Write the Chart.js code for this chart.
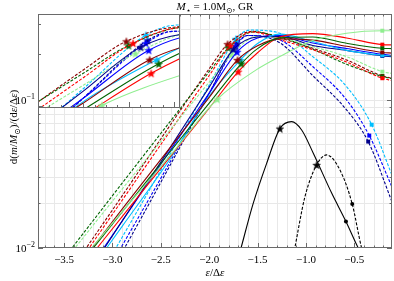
<!DOCTYPE html>
<html><head><meta charset="utf-8">
<script src="https://cdn.jsdelivr.net/npm/chart.js@4/dist/chart.umd.min.js"></script>
<style>
html,body{margin:0;padding:0;background:#fff;}
#wrap{position:relative;width:394px;height:281px;overflow:hidden;}
#main{position:absolute;left:0;top:0;}
#inset{position:absolute;left:38px;top:14px;background:#fff;}
</style></head><body>
<div id="wrap">
<canvas id="main" width="394" height="281"></canvas>
<canvas id="inset" width="142" height="94"></canvas>
</div>
<script>
// ---------- axis ranges & tick labels ----------
const mainXRange = [-3.77, -0.11];
const mainYRange = [0.01, 0.38];
const insetXRange = [-2.2, -1.573];
const insetYRange = [0.0973, 0.343];
const xTickValues = [-3.5, -3.0, -2.5, -2.0, -1.5, -1.0, -0.5];
const xTickLabels = ['\u22123.5', '\u22123.0', '\u22122.5', '\u22122.0', '\u22121.5', '\u22121.0', '\u22120.5'];
const yTickValues = [0.01, 0.1];
const yTickExponents = ['\u22122', '\u22121'];
const insetXMajor = [-2.0, -1.8, -1.6];
const insetYMajor = [0.1];
const insetYMinor = [0.2, 0.3];

// ---------- series (x = eps/Delta eps, y = dm/deps) ----------
const gDashX = [-3.44, -2.9, -2.4, -2.0, -1.80, -1.55, -1.27, -0.93, -0.58, -0.21, -0.11];
const gDashY = [0.0096, 0.0274, 0.072, 0.155, 0.225, 0.287, 0.266, 0.220, 0.174, 0.144, 0.139];
const drDashX = [-3.29, -2.9, -2.4, -2.0, -1.81, -1.55, -1.27, -0.93, -0.58, -0.21, -0.11];
const drDashY = [0.0096, 0.0225, 0.068, 0.162, 0.238, 0.290, 0.262, 0.223, 0.186, 0.145, 0.140];
const rDashX = [-3.26, -2.9, -2.4, -2.0, -1.78, -1.55, -1.27, -0.93, -0.58, -0.21, -0.11];
const rDashY = [0.0096, 0.021, 0.062, 0.146, 0.232, 0.287, 0.255, 0.218, 0.180, 0.140, 0.135];
const lgDashX = [-3.41, -2.9, -2.4, -2.0, -1.77, -1.5, -1.27, -0.93, -0.58, -0.21, -0.11];
const lgDashY = [0.0096, 0.025, 0.063, 0.132, 0.202, 0.268, 0.262, 0.229, 0.196, 0.155, 0.151];

const gSolidX = [-3.22, -2.9, -2.4, -2.0, -1.667, -1.5, -1.27, -0.93, -0.58, -0.21, -0.11];
const gSolidY = [0.0096, 0.0175, 0.045, 0.095, 0.176, 0.222, 0.262, 0.266, 0.241, 0.223, 0.222];
const drSolidX = [-3.23, -2.9, -2.4, -2.0, -1.707, -1.5, -1.27, -0.93, -0.58, -0.21, -0.11];
const drSolidY = [0.0096, 0.0183, 0.048, 0.104, 0.186, 0.232, 0.258, 0.253, 0.230, 0.209, 0.207];
const rSolidX = [-3.18, -2.9, -2.4, -2.0, -1.70, -1.5, -1.27, -0.93, -0.58, -0.21, -0.11];
const rSolidY = [0.0096, 0.0163, 0.0416, 0.088, 0.155, 0.208, 0.266, 0.280, 0.262, 0.236, 0.235];
const bSolidX = [-3.11, -2.9, -2.4, -2.0, -1.711, -1.5, -1.27, -0.93, -0.58, -0.21, -0.11];
const bSolidY = [0.0096, 0.0152, 0.046, 0.111, 0.211, 0.262, 0.272, 0.242, 0.222, 0.203, 0.200];
const dbSolidX = [-3.10, -2.9, -2.4, -2.0, -1.747, -1.5, -1.27, -0.93, -0.58, -0.21, -0.11];
const dbSolidY = [0.0096, 0.0152, 0.048, 0.122, 0.220, 0.266, 0.268, 0.233, 0.216, 0.198, 0.196];
const cSolidX = [-3.08, -2.9, -2.4, -2.0, -1.676, -1.5, -1.27, -0.93, -0.58, -0.21, -0.11];
const cSolidY = [0.0096, 0.014, 0.0404, 0.106, 0.186, 0.240, 0.278, 0.248, 0.216, 0.200, 0.198];
const lgSolidX = [-3.24, -2.9, -2.4, -1.917, -1.51, -1.27, -0.93, -0.58, -0.21, -0.11];
const lgSolidY = [0.0096, 0.0176, 0.0423, 0.101, 0.160, 0.196, 0.252, 0.282, 0.293, 0.293];

const cDashX = [-2.98, -2.6, -2.2, -2.0, -1.724, -1.58, -1.27, -0.93, -0.58, -0.32, -0.11];
const cDashY = [0.0096, 0.0258, 0.074, 0.126, 0.258, 0.296, 0.282, 0.196, 0.123, 0.068, 0.031];
const bDashX = [-2.93, -2.6, -2.2, -2.0, -1.724, -1.6, -1.27, -0.93, -0.58, -0.345, -0.11];
const bDashY = [0.0096, 0.0227, 0.0656, 0.111, 0.232, 0.272, 0.254, 0.168, 0.100, 0.0574, 0.0258];
const dbDashX = [-2.89, -2.6, -2.2, -2.0, -1.716, -1.6, -1.27, -0.93, -0.58, -0.356, -0.11];
const dbDashY = [0.0096, 0.0211, 0.0637, 0.111, 0.241, 0.272, 0.243, 0.146, 0.0856, 0.0523, 0.0205];

const kSolidX = [-1.68, -1.545, -1.406, -1.269, -1.148, -1.044, -0.925, -0.734, -0.586, -0.459, -0.44];
const kSolidY = [0.0095, 0.020, 0.0373, 0.064, 0.0713, 0.0626, 0.0438, 0.0235, 0.0151, 0.0100, 0.0095];
const kDashX = [-1.12, -1.010, -0.889, -0.786, -0.648, -0.521, -0.424, -0.41];
const kDashY = [0.0096, 0.0222, 0.0364, 0.0425, 0.0336, 0.0198, 0.0100, 0.0094];

// ---------- styling table built from the arrays ----------
const series = [
  {x: lgSolidX, y: lgSolidY, color: '#90ee90', dash: false, star: 3, mark: 8},
  {x: gSolidX, y: gSolidY, color: '#006400', dash: false, star: 4, mark: 9},
  {x: drSolidX, y: drSolidY, color: '#8b0000', dash: false, star: 4, mark: 9},
  {x: rSolidX, y: rSolidY, color: '#ff0000', dash: false, star: 4, mark: 9},
  {x: cSolidX, y: cSolidY, color: '#00bfff', dash: false, star: 4, mark: 9},
  {x: dbSolidX, y: dbSolidY, color: '#00008b', dash: false, star: 4, mark: 9},
  {x: bSolidX, y: bSolidY, color: '#0000ff', dash: false, star: 4, mark: 9},
  {x: lgDashX, y: lgDashY, color: '#90ee90', dash: true, star: 4, mark: 9},
  {x: rDashX, y: rDashY, color: '#ff0000', dash: true, star: 4, mark: 9},
  {x: gDashX, y: gDashY, color: '#006400', dash: true, star: 4, mark: 9},
  {x: drDashX, y: drDashY, color: '#8b0000', dash: true, star: 4, mark: 9},
  {x: cDashX, y: cDashY, color: '#00bfff', dash: true, star: 4, mark: 9},
  {x: bDashX, y: bDashY, color: '#0000ff', dash: true, star: 4, mark: 9},
  {x: dbDashX, y: dbDashY, color: '#00008b', dash: true, star: 4, mark: 9},
  {x: kSolidX, y: kSolidY, color: '#000000', dash: false, star: 3, mark: 8, black: true},
  {x: kDashX, y: kDashY, color: '#000000', dash: true, star: 2, mark: 5, black: true}
];

function starImg(color, r) {
  const c = document.createElement('canvas');
  const s = Math.ceil(r * 2 + 2);
  c.width = s; c.height = s;
  const g = c.getContext('2d');
  g.translate(s / 2, s / 2 + 0.5);
  g.beginPath();
  for (let i = 0; i < 10; i++) {
    const rr = i % 2 ? r * 0.42 : r;
    const a = -Math.PI / 2 + i * Math.PI / 5;
    g.lineTo(rr * Math.cos(a), rr * Math.sin(a));
  }
  g.closePath();
  g.fillStyle = color; g.fill();
  g.lineWidth = 0.5; g.strokeStyle = color; g.stroke();
  return c;
}

function makeDatasets(starR) {
  return series.map(s => {
    const st = starImg(s.color, starR);
    return {
      data: s.x.map((v, i) => ({x: v, y: s.y[i]})),
      borderColor: s.color,
      backgroundColor: s.color,
      borderWidth: 1.1,
      borderDash: s.dash ? [3, 1.6] : [],
      fill: false,
      cubicInterpolationMode: 'monotone',
      pointRadius: c => (c.dataIndex === s.star ? 4 : (c.dataIndex === s.mark ? (s.black ? 2 : 2.8) : 0)),
      pointHoverRadius: 0,
      pointStyle: c => (c.dataIndex === s.star ? st : (s.black ? 'circle' : 'rect')),
      pointBackgroundColor: s.color,
      pointBorderColor: s.color,
      pointBorderWidth: 0
    };
  });
}

const SERIF = '"Liberation Serif", "DejaVu Serif", serif';
function fontFor(p, base) {
  const sz = (p.sub || p.sup) ? base * 0.72 : base;
  return (p.i ? 'italic ' : '') + sz + 'px ' + SERIF;
}
function richWidth(ctx, parts, base) {
  let w = 0;
  for (const p of parts) { ctx.font = fontFor(p, base); w += ctx.measureText(p.t).width; }
  return w;
}
function drawRich(ctx, parts, x, y, base, align) {
  const w = richWidth(ctx, parts, base);
  let cx = align === 'center' ? x - w / 2 : (align === 'right' ? x - w : x);
  ctx.textAlign = 'left';
  ctx.textBaseline = 'alphabetic';
  for (const p of parts) {
    ctx.font = fontFor(p, base);
    const dy = p.sub ? base * 0.25 : (p.sup ? -base * 0.42 : 0);
    ctx.fillText(p.t, cx, y + dy);
    cx += ctx.measureText(p.t).width;
  }
}

const SPINE = '#6a6a6a';
const GRID = '#e8e8e8';

const mainDeco = {
  id: 'mainDeco',
  beforeDatasetsDraw(chart) {
    const {ctx, chartArea: a, scales: {x, y}} = chart;
    ctx.save();
    ctx.strokeStyle = GRID; ctx.lineWidth = 1;
    ctx.beginPath();
    for (let k = -37; k <= -2; k++) {
      const px = Math.round(x.getPixelForValue(k / 10)) + 0.5;
      ctx.moveTo(px, a.top); ctx.lineTo(px, a.bottom);
    }
    for (let e = -2; e <= -1; e++) {
      for (let m = 1; m <= 9; m++) {
        const v = m * Math.pow(10, e);
        if (v <= mainYRange[0] || v >= mainYRange[1]) continue;
        const py = Math.round(y.getPixelForValue(v)) + 0.5;
        ctx.moveTo(a.left, py); ctx.lineTo(a.right, py);
      }
    }
    ctx.stroke();
    ctx.restore();
  },
  afterDatasetsDraw(chart) {
    const {ctx, chartArea: a, scales: {x, y}} = chart;
    ctx.save();
    ctx.strokeStyle = SPINE; ctx.lineWidth = 1;
    ctx.strokeRect(a.left + 0.5, a.top + 0.5, a.right - a.left - 1, a.bottom - a.top - 1);
    ctx.beginPath();
    for (let k = -37; k <= -2; k++) {
      const v = k / 10;
      const major = (k % 5 === 0);
      const L = major ? 5 : 2.5;
      const px = Math.round(x.getPixelForValue(v)) + 0.5;
      ctx.moveTo(px, a.bottom); ctx.lineTo(px, a.bottom - L);
      ctx.moveTo(px, a.top); ctx.lineTo(px, a.top + L);
    }
    for (let e = -2; e <= -1; e++) {
      for (let m = 1; m <= 9; m++) {
        const v = m * Math.pow(10, e);
        if (v < mainYRange[0] - 1e-9 || v > mainYRange[1]) continue;
        const L = m === 1 ? 5 : 2.5;
        const py = Math.round(y.getPixelForValue(v)) + 0.5;
        ctx.moveTo(a.left, py); ctx.lineTo(a.left + L, py);
        ctx.moveTo(a.right, py); ctx.lineTo(a.right - L, py);
      }
    }
    ctx.stroke();
    ctx.fillStyle = '#000';
    ctx.font = '11px ' + SERIF;
    ctx.textAlign = 'center'; ctx.textBaseline = 'middle';
    xTickValues.forEach((v, i) => {
      ctx.fillText(xTickLabels[i], x.getPixelForValue(v), a.bottom + 12);
    });
    yTickValues.forEach((v, i) => {
      const py = y.getPixelForValue(v);
      drawRich(ctx, [{t: '10'}, {t: yTickExponents[i], sup: true}], a.left - 3, py + 4, 11, 'right');
    });
    drawRich(ctx, [{t: 'M', i: true}, {t: '\u22C6', sub: true}, {t: ' = 1.0M'}, {t: '\u2299', sub: true}, {t: ', GR'}],
      (a.left + a.right) / 2, 10, 11, 'center');
    drawRich(ctx, [{t: '\u03B5', i: true}, {t: '/\u0394'}, {t: '\u03B5', i: true}], (a.left + a.right) / 2, a.bottom + 28, 11, 'center');
    ctx.save();
    ctx.translate(13, (a.top + a.bottom) / 2 - 4);
    ctx.rotate(-Math.PI / 2);
    drawRich(ctx, [{t: 'd('}, {t: 'm', i: true}, {t: '/'}, {t: 'M', i: true}, {t: '\u2299', sub: true},
      {t: ')/(d'}, {t: '\u03B5', i: true}, {t: '/\u0394'}, {t: '\u03B5', i: true}, {t: ')'}], 0, 4, 11, 'center');
    ctx.restore();
    ctx.restore();
  }
};

const insetDeco = {
  id: 'insetDeco',
  afterDatasetsDraw(chart) {
    const {ctx, chartArea: a, scales: {x, y}} = chart;
    ctx.save();
    ctx.strokeStyle = SPINE; ctx.lineWidth = 1;
    ctx.strokeRect(a.left + 0.5, a.top + 0.5, a.right - a.left - 1, a.bottom - a.top - 1);
    ctx.beginPath();
    for (let k = -44; k <= -32; k++) {
      const v = k / 20;
      if (v < insetXRange[0] - 1e-9 || v > insetXRange[1]) continue;
      const major = insetXMajor.some(t => Math.abs(t - v) < 1e-6);
      const L = major ? 6 : 3;
      const px = Math.round(x.getPixelForValue(v)) + 0.5;
      ctx.moveTo(px, a.bottom); ctx.lineTo(px, a.bottom - L);
    }
    insetYMajor.forEach(v => {
      const py = Math.round(y.getPixelForValue(v)) + 0.5;
      ctx.moveTo(a.left, py); ctx.lineTo(a.left + 5, py);
    });
    insetYMinor.forEach(v => {
      const py = Math.round(y.getPixelForValue(v)) + 0.5;
      ctx.moveTo(a.left, py); ctx.lineTo(a.left + 3, py);
    });
    ctx.stroke();
    ctx.restore();
  }
};

const commonOpts = (xr, yr, pad) => ({
  responsive: false, animation: false, devicePixelRatio: 1,
  layout: {padding: pad, autoPadding: false},
  plugins: {legend: {display: false}, title: {display: false}, tooltip: {enabled: false}},
  elements: {line: {capBezierPoints: false}},
  scales: {
    x: {type: 'linear', min: xr[0], max: xr[1], display: false},
    y: {type: 'logarithmic', min: yr[0], max: yr[1], display: false}
  }
});

new Chart(document.getElementById('main'), {
  type: 'line',
  data: {datasets: makeDatasets(4)},
  options: commonOpts(mainXRange, mainYRange, {left: 38, right: 2, top: 14, bottom: 33}),
  plugins: [mainDeco]
});

new Chart(document.getElementById('inset'), {
  type: 'line',
  data: {datasets: makeDatasets(4)},
  options: commonOpts(insetXRange, insetYRange, 0),
  plugins: [insetDeco]
});
</script>
</body></html>
